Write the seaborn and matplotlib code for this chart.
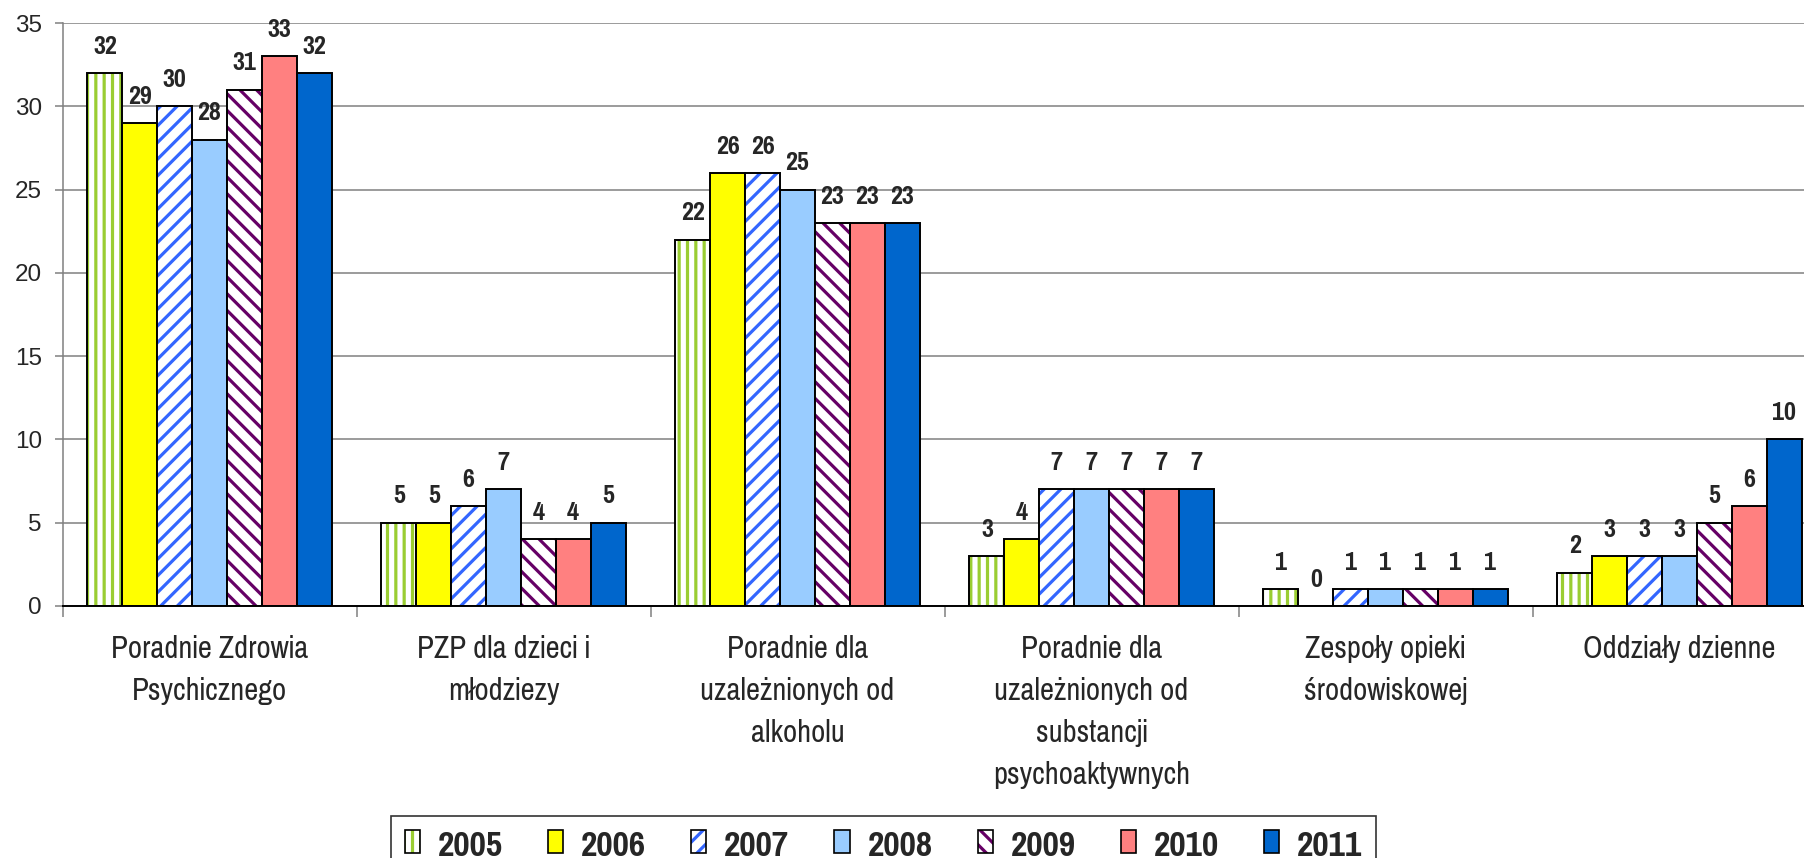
import numpy as np
import pandas as pd
import seaborn as sns
import matplotlib.pyplot as plt
from matplotlib.patches import Patch, Rectangle
from matplotlib import font_manager

categories = ['Poradnie Zdrowia\nPsychicznego', 'PZP dla dzieci i\nmłodziezy',
              'Poradnie dla\nuzależnionych od\nalkoholu',
              'Poradnie dla\nuzależnionych od\nsubstancji\npsychoaktywnych',
              'Zespoły opieki\nśrodowiskowej', 'Oddziały dzienne']
years = ['2005', '2006', '2007', '2008', '2009', '2010', '2011']
v2005 = [32, 5, 22, 3, 1, 2]
v2006 = [29, 5, 26, 4, 0, 3]
v2007 = [30, 6, 26, 7, 1, 3]
v2008 = [28, 7, 25, 7, 1, 3]
v2009 = [31, 4, 23, 7, 1, 5]
v2010 = [33, 4, 23, 7, 1, 6]
v2011 = [32, 5, 23, 7, 1, 10]
yticks = [0, 5, 10, 15, 20, 25, 30, 35]

# colour / hatch per year (hatched ones have white face)
face = {'2005': 'white', '2006': '#FFFF00', '2007': 'white', '2008': '#99CCFF',
        '2009': 'white', '2010': '#FF8080', '2011': '#0066CC'}
hatch = {'2005': '||', '2007': '//', '2009': '\\\\'}
hatch_col = {'2005': '#9ACD32', '2007': '#3366FF', '2009': '#660066'}


def weight_num(w):
    if isinstance(w, str):
        return {'bold': 700, 'heavy': 800, 'black': 900, 'semibold': 600, 'demibold': 600}.get(w, 400)
    return w


def pick_narrow():
    # first narrow family that has both a regular and a bold face
    entries = font_manager.fontManager.ttflist
    for name in ['Pragati Narrow', 'Roboto Condensed', 'IBM Plex Sans Condensed',
                 'Fira Sans Condensed', 'PT Sans Narrow', 'Archivo Narrow']:
        ws = [weight_num(f.weight) for f in entries if f.name == name]
        if ws and max(ws) >= 600 and min(ws) <= 500:
            return name
    return 'Liberation Sans'


sns.set_theme(style='white')
narrow = pick_narrow()
plt.rcParams['font.family'] = [narrow, 'DejaVu Sans']
plt.rcParams['hatch.linewidth'] = 2.3

vals = [v2005, v2006, v2007, v2008, v2009, v2010, v2011]
rows = []
for y, vs in zip(years, vals):
    for c, v in zip(categories, vs):
        rows.append({'cat': c, 'year': y, 'val': v})
df = pd.DataFrame(rows)

DPI = 100
fig = plt.figure(figsize=(1804 / DPI, 858 / DPI), dpi=DPI)
ax = fig.add_axes([62.5 / 1804, 1 - 606 / 858, 1764 / 1804, 583 / 858])

sns.barplot(data=df, x='cat', y='val', hue='year', palette=face, width=0.83,
            order=categories, hue_order=years, ax=ax, legend=False, saturation=1)

for y, cont in zip(years, ax.containers):
    for p in cont.patches:
        if y in hatch:
            # hatch takes the edge colour, so draw the black outline on top
            p.set_facecolor('white')
            p.set_hatch(hatch[y])
            p.set_edgecolor(hatch_col[y])
            p.set_linewidth(0)
            ax.add_patch(Rectangle(p.get_xy(), p.get_width(), p.get_height(),
                                   fill=False, edgecolor='black', linewidth=1.4, zorder=p.get_zorder() + 0.1))
        else:
            p.set_edgecolor('black')
            p.set_linewidth(1.4)
    ax.bar_label(cont, fmt='{:.0f}', padding=11, fontsize=20.5, fontweight='bold')

ax.set_ylim(0, 35)
ax.set_xlim(-0.5, len(categories) - 0.5)
ax.set_yticks(yticks)
ax.set_yticklabels([str(t) for t in yticks], family=['Liberation Sans', 'DejaVu Sans'])
ax.tick_params(axis='y', labelsize=17.5, length=5.8, width=1.1, color='#808080', left=True, pad=9)
ax.yaxis.grid(True, color='#808080', linewidth=1.1)
ax.set_axisbelow(True)

ax.set_xticks(np.arange(len(categories) + 1) - 0.5)
ax.set_xticklabels([])
ax.set_xticks(np.arange(len(categories)), minor=True)
ax.set_xticklabels(categories, minor=True, fontsize=24, linespacing=1.6, va='top')
ax.tick_params(axis='x', which='major', length=8, width=1.1, color='#808080', bottom=True)
ax.tick_params(axis='x', which='minor', length=0, pad=21)
ax.set_xlabel('')
ax.set_ylabel('')

for s in ['top', 'right']:
    ax.spines[s].set_visible(False)
ax.spines['left'].set_color('#808080')
ax.spines['left'].set_linewidth(1.1)
ax.spines['bottom'].set_color('black')
ax.spines['bottom'].set_linewidth(1.4)

handles = []
for y in years:
    if y in hatch:
        h = (Patch(facecolor='white', edgecolor=hatch_col[y], hatch=hatch[y], linewidth=0),
             Patch(facecolor='none', edgecolor='black', linewidth=1.2))
    else:
        h = Patch(facecolor=face[y], edgecolor='black', linewidth=1.2)
    handles.append(h)
leg = fig.legend(handles, years, loc='upper left', bbox_to_anchor=(391 / 1804, 1 - 816 / 858),
                 ncol=7, frameon=True, fancybox=False, prop={'size': 28, 'weight': 'bold'},
                 handlelength=0.39, handleheight=0.54, handletextpad=0.46, columnspacing=1.16,
                 borderpad=0.35, borderaxespad=0)
leg.get_frame().set_edgecolor('black')
leg.get_frame().set_linewidth(1.2)

fig.savefig('out.png', dpi=DPI)
